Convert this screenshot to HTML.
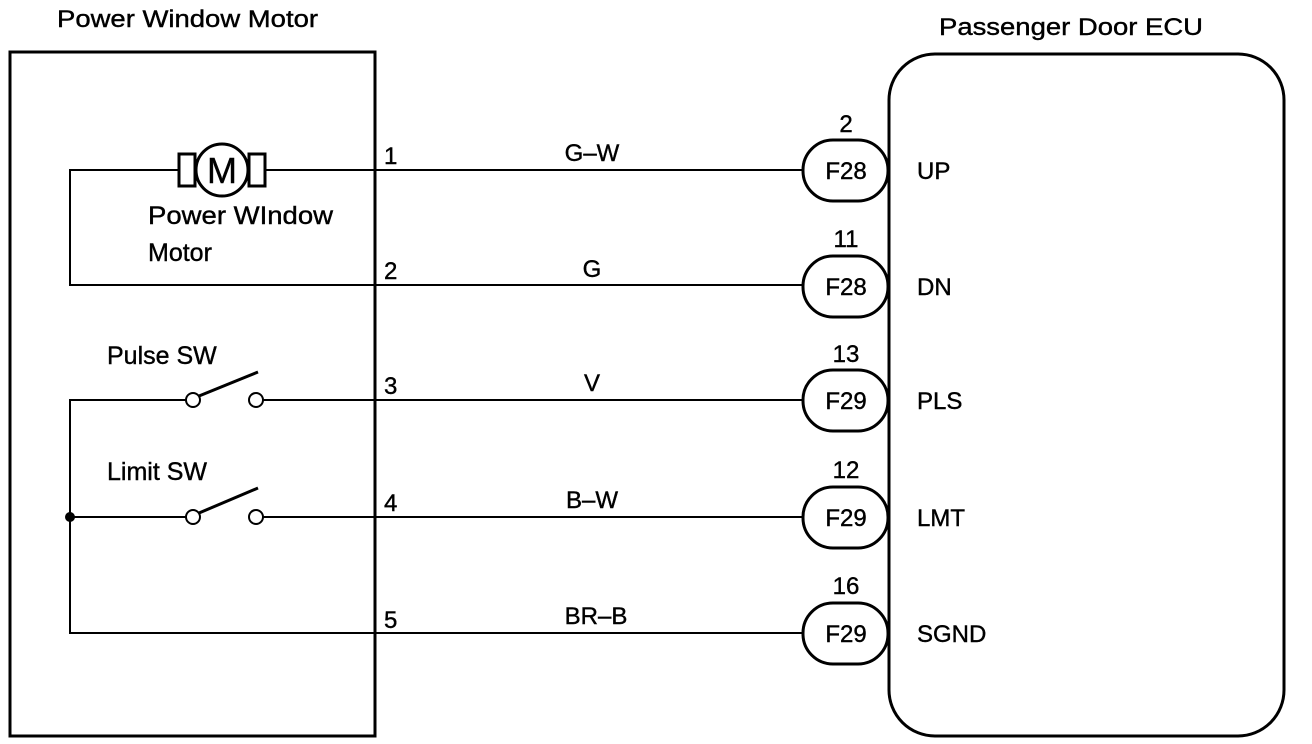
<!DOCTYPE html>
<html><head><style>
html,body{margin:0;padding:0;background:#fff;}
svg{display:block;}
text{font-family:"Liberation Sans",Arial,sans-serif;fill:#000;stroke:#000;stroke-width:0.4;}
</style></head><body>
<svg width="1312" height="744" viewBox="0 0 1312 744" xmlns="http://www.w3.org/2000/svg">
<g fill="none" stroke="#000">
<rect x="10" y="52" width="365" height="684" stroke-width="3"/>
<rect x="889" y="54" width="395" height="682" rx="46" ry="46" stroke-width="3"/>
<polyline points="178,170 70,170 70,285 375,285" stroke-width="2"/>
<line x1="265" y1="170" x2="803" y2="170" stroke-width="2"/>
<line x1="375" y1="285" x2="803" y2="285" stroke-width="2"/>
<rect x="179" y="154" width="16" height="32" stroke-width="3"/>
<rect x="249" y="154" width="16" height="32" stroke-width="3"/>
<circle cx="222" cy="170" r="26" fill="#fff" stroke-width="3"/>
<polyline points="186,400 70,400 70,633 803,633" stroke-width="2"/>
<line x1="70" y1="517" x2="186" y2="517" stroke-width="2"/>
<line x1="263" y1="400" x2="803" y2="400" stroke-width="2"/>
<line x1="263" y1="517" x2="803" y2="517" stroke-width="2"/>
<circle cx="193" cy="400" r="7" stroke-width="2"/>
<circle cx="256" cy="400" r="7" stroke-width="2"/>
<circle cx="193" cy="517" r="7" stroke-width="2"/>
<circle cx="256" cy="517" r="7" stroke-width="2"/>
<line x1="199" y1="396" x2="258" y2="372" stroke-width="3"/>
<line x1="199" y1="513" x2="258" y2="488" stroke-width="3"/>
<rect x="803" y="140" width="85" height="61" rx="30" ry="30" fill="#fff" stroke-width="3"/>
<rect x="803" y="256" width="85" height="61" rx="30" ry="30" fill="#fff" stroke-width="3"/>
<rect x="803" y="370" width="85" height="61" rx="30" ry="30" fill="#fff" stroke-width="3"/>
<rect x="803" y="487" width="85" height="61" rx="30" ry="30" fill="#fff" stroke-width="3"/>
<rect x="803" y="603" width="85" height="61" rx="30" ry="30" fill="#fff" stroke-width="3"/>
</g>
<circle cx="70" cy="517" r="5" fill="#000"/>
<text x="57" y="27" font-size="24" textLength="261" lengthAdjust="spacingAndGlyphs">Power Window Motor</text>
<text x="939" y="35" font-size="24" textLength="264" lengthAdjust="spacingAndGlyphs">Passenger Door ECU</text>
<text x="222" y="183" font-size="36" text-anchor="middle">M</text>
<text x="148" y="224" font-size="25" textLength="185" lengthAdjust="spacingAndGlyphs">Power WIndow</text>
<text x="148" y="261" font-size="25">Motor</text>
<text x="107" y="364" font-size="25">Pulse SW</text>
<text x="107" y="480" font-size="25">Limit SW</text>
<g font-size="24">
<text x="384" y="164">1</text>
<text x="384" y="279">2</text>
<text x="384" y="394">3</text>
<text x="384" y="511">4</text>
<text x="384" y="628">5</text>
<text x="592" y="161" text-anchor="middle">G–W</text>
<text x="592" y="277" text-anchor="middle">G</text>
<text x="592" y="391" text-anchor="middle">V</text>
<text x="592" y="508" text-anchor="middle">B–W</text>
<text x="596" y="624" text-anchor="middle">BR–B</text>
<text x="846" y="132" text-anchor="middle">2</text>
<text x="846" y="247" text-anchor="middle">11</text>
<text x="846" y="362" text-anchor="middle">13</text>
<text x="846" y="478" text-anchor="middle">12</text>
<text x="846" y="594" text-anchor="middle">16</text>
<text x="846" y="179" text-anchor="middle">F28</text>
<text x="846" y="295" text-anchor="middle">F28</text>
<text x="846" y="409" text-anchor="middle">F29</text>
<text x="846" y="526" text-anchor="middle">F29</text>
<text x="846" y="642" text-anchor="middle">F29</text>
<text x="917" y="179">UP</text>
<text x="917" y="295">DN</text>
<text x="917" y="409">PLS</text>
<text x="917" y="526">LMT</text>
<text x="917" y="642">SGND</text>
</g>
</svg>
</body></html>
